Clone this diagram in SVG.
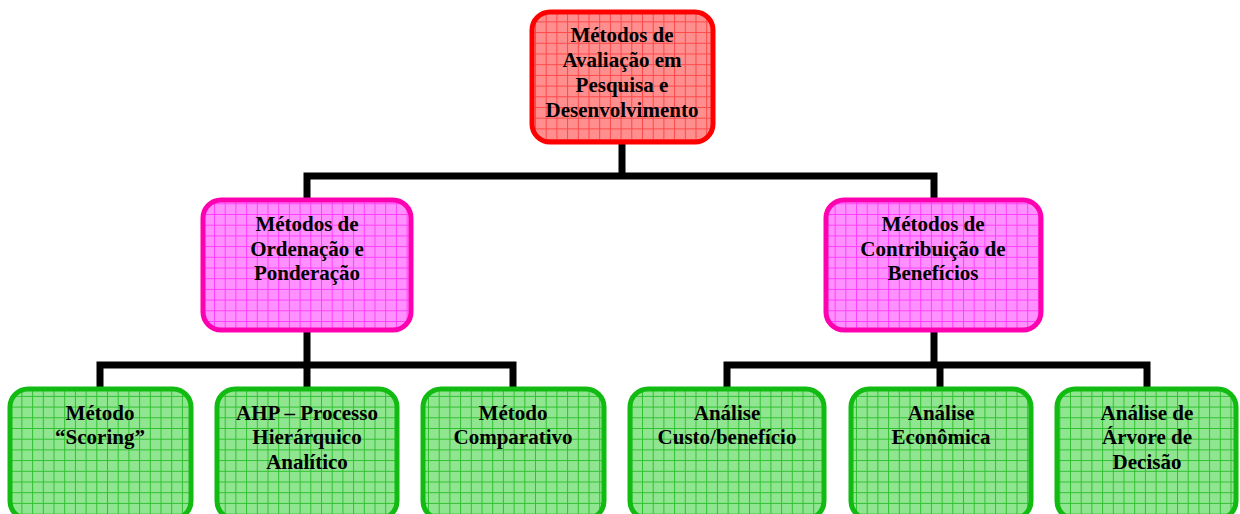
<svg xmlns="http://www.w3.org/2000/svg" width="1240" height="514" viewBox="0 0 1240 514">
<style>
.red{fill:url(#gRed);stroke:#ff0000;stroke-width:5}
.pink{fill:url(#gPink);stroke:#ff00b0;stroke-width:5}
.green{fill:url(#gGreen);stroke:#11bb11;stroke-width:5}
.conn{fill:none;stroke:#000;stroke-width:7;stroke-linejoin:miter;stroke-linecap:butt}
text{font-family:"Liberation Serif","Times New Roman",serif;font-weight:bold;font-size:21px;fill:#000;text-anchor:middle}
</style>
<defs>
<pattern id="gRed" patternUnits="userSpaceOnUse" width="10.7" height="10.7">
<rect width="10.7" height="10.7" fill="#ff8e8e"/>
<path d="M0 0.5H10.7M0.5 0V10.7" stroke="#ff4848" stroke-width="1"/>
</pattern>
<pattern id="gPink" patternUnits="userSpaceOnUse" width="10.7" height="10.7">
<rect width="10.7" height="10.7" fill="#ff90ff"/>
<path d="M0 0.5H10.7M0.5 0V10.7" stroke="#ff40ff" stroke-width="1"/>
</pattern>
<pattern id="gGreen" patternUnits="userSpaceOnUse" width="10.7" height="10.7">
<rect width="10.7" height="10.7" fill="#90e690"/>
<path d="M0 0.5H10.7M0.5 0V10.7" stroke="#30c030" stroke-width="1"/>
</pattern>
</defs>
<g id="connectors">
<path class="conn" d="M622 142V176M307 200V176H934V200"/>
<path class="conn" d="M307 330V389M100 389V365H513V389"/>
<path class="conn" d="M934 330V365M727 389V365H1147V389M940 365V389"/>
</g>
<g id="n-root">
<rect class="red" x="532" y="12" width="181" height="130" rx="18"/>
<text x="622" y="42">Métodos de</text>
<text x="622" y="67">Avaliação em</text>
<text x="622" y="92">Pesquisa e</text>
<text x="622" y="117">Desenvolvimento</text>
</g>
<g id="n-ordenacao">
<rect class="pink" x="203" y="200" width="208" height="130" rx="18"/>
<text x="307" y="231">Métodos de</text>
<text x="307" y="256">Ordenação e</text>
<text x="307" y="280">Ponderação</text>
</g>
<g id="n-contribuicao">
<rect class="pink" x="826" y="200" width="215" height="130" rx="18"/>
<text x="933" y="231">Métodos de</text>
<text x="933" y="256">Contribuição de</text>
<text x="933" y="280">Benefícios</text>
</g>
<g id="n-scoring">
<rect class="green" x="10" y="389" width="181" height="130" rx="18"/>
<text x="100" y="420">Método</text>
<text x="100" y="444">“Scoring”</text>
</g>
<g id="n-ahp">
<rect class="green" x="217" y="389" width="180" height="130" rx="18"/>
<text x="307" y="420">AHP – Processo</text>
<text x="307" y="444">Hierárquico</text>
<text x="307" y="469">Analítico</text>
</g>
<g id="n-comparativo">
<rect class="green" x="423" y="389" width="181" height="130" rx="18"/>
<text x="513" y="420">Método</text>
<text x="513" y="444">Comparativo</text>
</g>
<g id="n-custo">
<rect class="green" x="630" y="389" width="194" height="130" rx="18"/>
<text x="727" y="420">Análise</text>
<text x="727" y="444">Custo/benefício</text>
</g>
<g id="n-economica">
<rect class="green" x="851" y="389" width="180" height="130" rx="18"/>
<text x="941" y="420">Análise</text>
<text x="941" y="444">Econômica</text>
</g>
<g id="n-arvore">
<rect class="green" x="1057" y="389" width="179" height="130" rx="18"/>
<text x="1147" y="420">Análise de</text>
<text x="1147" y="444">Árvore de</text>
<text x="1147" y="469">Decisão</text>
</g>
</svg>
